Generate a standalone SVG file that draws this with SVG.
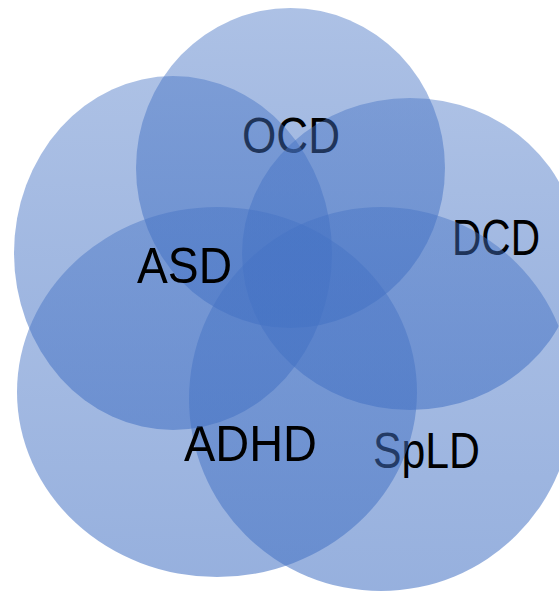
<svg xmlns="http://www.w3.org/2000/svg" width="559" height="592" viewBox="0 0 559 592">
<defs>
<linearGradient id="g" x1="0" y1="0" x2="0" y2="1">
<stop offset="0" stop-color="#4472c4" stop-opacity="0.44"/>
<stop offset="1" stop-color="#4472c4" stop-opacity="0.56"/>
</linearGradient>
</defs>
<style>
.c{fill:url(#g);}
.t{font-family:"Liberation Sans",Arial,sans-serif;font-size:50px;fill:#000;}
</style>
<rect width="559" height="592" fill="#fff"/>
<g id="ocd"><ellipse class="c" cx="290.5" cy="168" rx="154.5" ry="160"/><text class="t" x="242" y="153" textLength="98" lengthAdjust="spacingAndGlyphs">OCD</text></g>
<g id="dcd"><ellipse class="c" cx="410" cy="254" rx="168" ry="156"/><text class="t" x="452" y="255" textLength="88" lengthAdjust="spacingAndGlyphs">DCD</text></g>
<g id="spld"><ellipse class="c" cx="381" cy="399" rx="192" ry="192"/><text class="t" x="373" y="468" textLength="107" lengthAdjust="spacingAndGlyphs">SpLD</text></g>
<g id="adhd"><ellipse class="c" cx="217" cy="392" rx="200" ry="185"/><text class="t" x="184" y="461" textLength="133" lengthAdjust="spacingAndGlyphs">ADHD</text></g>
<g id="asd"><ellipse class="c" cx="173" cy="253" rx="159" ry="177"/><text class="t" x="137" y="283" textLength="95" lengthAdjust="spacingAndGlyphs">ASD</text></g>
<g id="connectors"></g>
</svg>
